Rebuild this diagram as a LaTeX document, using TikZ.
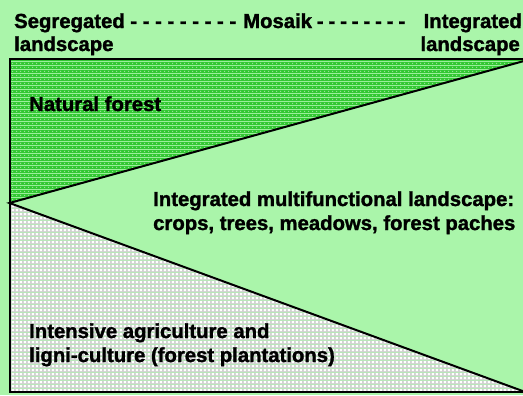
\documentclass[tikz,border=0pt]{standalone}
\usepackage{fontspec}
\setmainfont{Liberation Sans}[BoldFeatures={FakeBold=1.5}]
\usetikzlibrary{patterns}

\definecolor{meadow}{RGB}{170,245,170}
\definecolor{forest}{RGB}{51,200,51}
\definecolor{forestdot}{RGB}{150,225,150}
\definecolor{fieldgrid}{RGB}{210,210,210}

% dotted forest texture
\pgfdeclarepatterninherentlycolored{forestdots}{\pgfpointorigin}{\pgfpoint{3.6bp}{3.6bp}}{\pgfpoint{3.6bp}{3.6bp}}{%
  \pgfsetfillcolor{forest}%
  \pgfpathrectangle{\pgfpointorigin}{\pgfpoint{3.6bp}{3.6bp}}\pgfusepath{fill}%
  \pgfsetfillcolor{forestdot}%
  \pgfpathrectangle{\pgfpoint{1.2bp}{1.2bp}}{\pgfpoint{1.2bp}{1.2bp}}\pgfusepath{fill}}

% small grid texture for the plantations
\pgfdeclarepatterninherentlycolored{fieldcells}{\pgfpointorigin}{\pgfpoint{3.6bp}{3.6bp}}{\pgfpoint{3.6bp}{3.6bp}}{%
  \pgfsetfillcolor{fieldgrid}%
  \pgfpathrectangle{\pgfpointorigin}{\pgfpoint{3.6bp}{3.6bp}}\pgfusepath{fill}%
  \pgfsetfillcolor{white}%
  \pgfpathrectangle{\pgfpoint{0.9bp}{0.9bp}}{\pgfpoint{2.2bp}{2.2bp}}\pgfusepath{fill}}

\begin{document}
\begin{tikzpicture}[x=1bp,y=-1bp,
    lbl/.style={font=\bfseries\fontsize{20.3bp}{24bp}\selectfont, inner sep=0pt, anchor=base west},
    lblr/.style={lbl, anchor=base east},
    edge/.style={line width=2bp, line join=miter}]
  \useasboundingbox (0,0) rectangle (523,395);
  \fill[meadow] (0,0) rectangle (523,395);

  % frame corners and the two dividing lines
  \coordinate (tl) at (9.5,59);
  \coordinate (tr) at (524,59);
  \coordinate (bl) at (9.5,391.5);
  \coordinate (br) at (524,391.5);
  \coordinate (apex) at (9.5,203);
  \coordinate (fr) at (524,61);

  \fill[pattern=forestdots] (tl) -- (tr) -- (fr) -- (apex) -- cycle;
  \fill[pattern=fieldcells] (apex) -- (br) -- (bl) -- cycle;
  \draw[edge] (fr) -- (apex) -- (br);
  \draw[edge] (tr) -- (tl) -- (bl) -- (br);

  % gradient heading
  \node[lbl] (seg) at (14,28) {\makebox[222bp][s]{Segregated - - - - - - - - -}};
  \node[lbl] (mos) at (243,28) {\makebox[162bp][s]{Mosaik - - - - - - - -}};
  \node[lblr] (integ) at (522,28) {Integrated};
  \node[lbl] (segl) at (14,51) {landscape};
  \node[lblr] (integl) at (520,51) {landscape};

  % region labels
  \node[lbl] (nat) at (29,111) {Natural forest};
  \node[lbl] (mul1) at (153,206) {Integrated multifunctional landscape:};
  \node[lbl] (mul2) at (153,230) {crops, trees, meadows, forest paches};
  \node[lbl] (int1) at (29,338) {Intensive agriculture and};
  \node[lbl] (int2) at (29,362) {ligni-culture (forest plantations)};
\end{tikzpicture}
\end{document}
